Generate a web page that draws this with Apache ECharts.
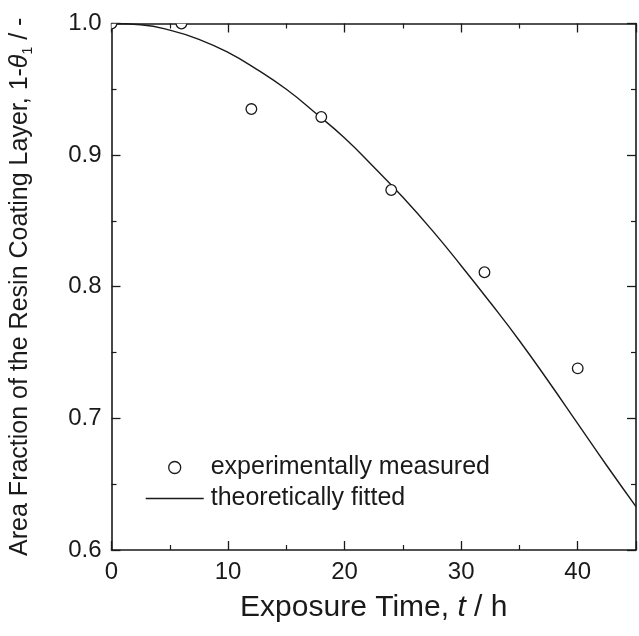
<!DOCTYPE html>
<html>
<head>
<meta charset="utf-8">
<script src="https://cdn.jsdelivr.net/npm/echarts@6/dist/echarts.min.js"></script>
<style>
html,body{margin:0;padding:0;background:#fff;}
#c{width:639px;height:636px;}
</style>
</head>
<body>
<div id="c"></div>
<script>
// Measured points
var measuredT = [0, 6, 12, 18, 24, 32, 40];
var measuredA = [1.0, 1.0, 0.935, 0.929, 0.8735, 0.811, 0.738];
// Fitted curve
var fitT = [0, 2.5, 5, 7.5, 10, 12.5, 15, 17.5, 20, 22.5, 25, 27.5, 30, 32.5, 35, 37.5, 40, 42.5, 45];
var fitA = [1.0, 0.999, 0.995, 0.988, 0.978, 0.965, 0.950, 0.932, 0.913, 0.891, 0.868, 0.843, 0.816, 0.788, 0.759, 0.728, 0.696, 0.664, 0.633];
var xTicks = [0, 10, 20, 30, 40];
var yTicks = [0.6, 0.7, 0.8, 0.9, 1.0];

var FONT = 'Liberation Sans';
var INK = '#1a1a1a';

var measuredData = measuredT.map(function (t, i) { return [t, measuredA[i]]; });
var fitData = fitT.map(function (t, i) { return [t, fitA[i]]; });

function axisCommon(showLabels) {
  return {
    axisLine: { show: true, onZero: false, lineStyle: { color: INK, width: 1.6 } },
    axisTick: { show: true, inside: true, length: 9, lineStyle: { color: INK, width: 1.3 } },
    minorTick: { show: true, splitNumber: 2, length: 5, lineStyle: { color: INK, width: 1.2 } },
    splitLine: { show: false },
    minorSplitLine: { show: false },
    axisLabel: { show: showLabels, color: INK, fontFamily: FONT, fontSize: 24, margin: 10 }
  };
}

var chart = echarts.init(document.getElementById('c'), null, { renderer: 'canvas' });

var xBottom = Object.assign(axisCommon(true), {
  type: 'value', position: 'bottom', min: 0, max: 45, interval: 10,
  name: '{n|Exposure Time, }{i|t}{n| / h}',
  nameLocation: 'middle', nameGap: 42,
  nameTextStyle: {
    rich: {
      n: { fontFamily: FONT, fontSize: 30, color: INK, lineHeight: 32 },
      i: { fontFamily: FONT, fontSize: 30, color: INK, fontStyle: 'italic', lineHeight: 32 }
    }
  }
});
xBottom.axisLabel.formatter = function (v) { return xTicks.indexOf(v) >= 0 ? String(v) : ''; };

var xTop = Object.assign(axisCommon(false), {
  type: 'value', position: 'top', min: 0, max: 45, interval: 10
});

var yLeft = Object.assign(axisCommon(true), {
  type: 'value', position: 'left', min: 0.6, max: 1.0, interval: 0.1,
  name: '{n|Area Fraction of the Resin Coating Layer, 1-}{i|θ}{s|1}{n| / -}',
  nameLocation: 'middle', nameGap: 76, nameRotate: 90,
  nameTextStyle: {
    rich: {
      n: { fontFamily: FONT, fontSize: 25, color: INK, lineHeight: 30 },
      i: { fontFamily: FONT, fontSize: 25, color: INK, fontStyle: 'italic', lineHeight: 30 },
      s: { fontFamily: FONT, fontSize: 14, color: INK, lineHeight: 30, verticalAlign: 'bottom' }
    }
  }
});
yLeft.axisLabel.formatter = function (v) {
  var ok = yTicks.some(function (t) { return Math.abs(t - v) < 1e-9; });
  return ok ? v.toFixed(1) : '';
};

var yRight = Object.assign(axisCommon(false), {
  type: 'value', position: 'right', min: 0.6, max: 1.0, interval: 0.1
});

chart.setOption({
  animation: false,
  backgroundColor: '#fff',
  grid: { left: 111, top: 23.5, right: 1.5, bottom: 86, containLabel: false },
  xAxis: [xBottom, xTop],
  yAxis: [yLeft, yRight],
  legend: {
    orient: 'vertical',
    left: 145, top: 455, padding: 0,
    itemWidth: 58, itemHeight: 12, itemGap: 6,
    textStyle: { fontFamily: FONT, fontSize: 25, color: INK, lineHeight: 25, padding: [0, 0, 0, 2] },
    data: [
      { name: 'experimentally measured', icon: 'circle',
        itemStyle: { color: '#fff', borderColor: INK, borderWidth: 1.3 } },
      { name: 'theoretically fitted',
        itemStyle: { opacity: 0, color: 'rgba(0,0,0,0)', borderWidth: 0 },
        lineStyle: { color: INK, width: 1.4 } }
    ]
  },
  series: [
    {
      name: 'theoretically fitted',
      type: 'line',
      xAxisIndex: 0, yAxisIndex: 0,
      data: fitData,
      smooth: true,
      symbol: 'none',
      showSymbol: false,
      clip: true,
      lineStyle: { color: INK, width: 1.4 },
      itemStyle: { color: INK },
      z: 2
    },
    {
      name: 'experimentally measured',
      type: 'custom',
      xAxisIndex: 0, yAxisIndex: 0,
      clip: true,
      data: measuredData,
      encode: { x: 0, y: 1 },
      renderItem: function (params, api) {
        var p = api.coord([api.value(0), api.value(1)]);
        var cs = params.coordSys;
        return {
          type: 'group',
          clipPath: { type: 'rect', shape: { x: cs.x, y: cs.y, width: cs.width, height: cs.height } },
          children: [{
            type: 'circle',
            shape: { cx: p[0], cy: p[1], r: 5.3 },
            style: { fill: '#fff', stroke: INK, lineWidth: 1.3 }
          }]
        };
      },
      itemStyle: { color: '#fff', borderColor: INK },
      z: 3
    }
  ]
});
</script>
</body>
</html>
